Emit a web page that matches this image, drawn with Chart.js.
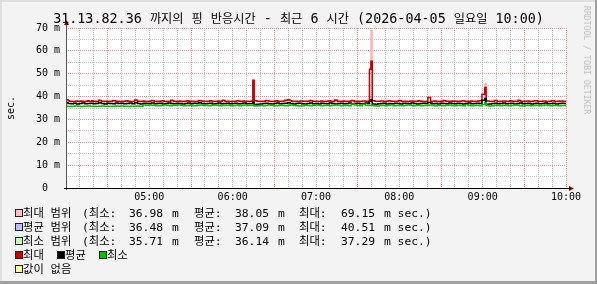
<!DOCTYPE html>
<html><head><meta charset="utf-8">
<script src="https://cdn.jsdelivr.net/npm/chart.js@4/dist/chart.umd.min.js"></script>
<style>
html,body{margin:0;padding:0;background:#f3f3f3;}
#wrap{position:relative;width:597px;height:284px;overflow:hidden;background:#f3f3f3;font-family:"DejaVu Sans Mono","Noto Sans CJK KR",monospace;color:#000;}
#c{position:absolute;left:0;top:0;}
.edge{position:absolute;}
#title{position:absolute;left:0;top:11px;width:597px;text-align:center;font-size:13.4px;line-height:16px;white-space:pre;}
#title .k{font-size:12.2px;line-height:1;}
.t{position:absolute;font-size:11.3px;line-height:14px;white-space:pre;}
.sq{position:absolute;width:8px;height:8px;box-sizing:border-box;border:1px solid #222;}
#ylab{position:absolute;left:11px;top:108px;transform:translate(-50%,-50%) rotate(-90deg);font-size:10px;line-height:12px;white-space:pre;}
#wm{position:absolute;left:587px;top:60px;transform:translate(-50%,-50%) rotate(90deg);font-size:8.2px;line-height:10px;color:#bcbcbc;white-space:pre;}
</style></head>
<body>
<div id="wrap">
  <canvas id="c" width="597" height="284" style="width:597px;height:284px"></canvas>
  <div class="edge" style="left:0;top:0;width:597px;height:2px;background:#dedede"></div>
  <div class="edge" style="left:0;top:0;width:2px;height:284px;background:#dedede"></div>
  <div class="edge" style="left:595px;top:0;width:2px;height:284px;background:#a0a0a0"></div>
  <div class="edge" style="left:0;top:281px;width:597px;height:3px;background:#a0a0a0"></div>
  <div id="title">31.13.82.36 <span class="k">까지의</span> <span class="k">핑</span> <span class="k">반응시간</span> - <span class="k">최근</span> 6 <span class="k">시간</span> (2026-04-05 <span class="k">일요일</span> 10:00)</div>
  <div id="ylab">sec.</div>
  <div id="wm">RRDTOOL / TOBI OETIKER</div>
  <div id="legend"></div>
</div>
<script>
// ---- data (milliseconds), one sample per minute from 04:00 to 10:00 ----
const STEP_MIN = 1;
const maxLine = [
  38.6, 38.6, 38.2, 38.0, 37.9, 37.8, 37.8, 38.0, 38.1, 37.9,
  37.9, 38.1, 38.0, 37.8, 37.8, 37.9, 38.2, 37.9, 38.0, 38.2,
  38.0, 37.9, 37.8, 37.8, 38.4, 38.3, 37.9, 37.9, 38.0, 38.0,
  37.8, 37.9, 37.9, 38.0, 38.3, 38.2, 38.1, 37.9, 37.9, 37.8,
  37.8, 37.9, 38.0, 38.1, 38.2, 38.0, 37.9, 37.8, 37.8, 37.9,
  38.5, 38.4, 38.0, 37.9, 37.9, 38.0, 38.1, 38.0, 37.8, 37.8,
  38.0, 38.1, 38.3, 38.2, 37.9, 37.9, 37.8, 37.9, 38.0, 38.1,
  38.2, 38.0, 37.9, 37.8, 37.8, 37.9, 38.4, 38.3, 38.0, 38.0,
  37.9, 38.0, 38.1, 37.9, 37.8, 37.9, 38.0, 38.1, 38.2, 38.0,
  37.9, 38.0, 38.0, 37.8, 37.8, 37.9, 38.3, 38.2, 38.1, 38.0,
  38.0, 37.9, 37.9, 38.0, 38.2, 38.1, 37.8, 37.9, 38.0, 38.0,
  38.1, 37.9, 37.9, 38.4, 38.3, 38.0, 38.0, 37.9, 37.8, 37.8,
  37.9, 38.0, 38.0, 38.1, 38.2, 38.1, 37.9, 37.9, 38.1, 38.0,
  37.8, 37.9, 38.0, 38.0, 38.1, 47.1, 38.2, 38.2, 37.9, 37.9,
  38.0, 38.0, 37.9, 37.9, 38.3, 38.2, 38.1, 37.9, 37.8, 37.9,
  38.0, 38.1, 38.2, 38.0, 37.9, 37.9, 38.0, 38.1, 38.4, 38.3,
  38.6, 38.5, 38.2, 38.0, 37.9, 38.0, 38.0, 37.8, 37.8, 38.1,
  38.1, 37.9, 37.9, 38.0, 38.0, 38.1, 38.3, 38.2, 37.9, 37.9,
  38.0, 37.9, 37.8, 37.8, 38.1, 38.0, 37.9, 38.0, 38.0, 38.1,
  38.2, 38.0, 37.8, 37.9, 38.5, 38.4, 38.0, 37.9, 37.9, 38.0,
  38.1, 38.0, 37.9, 37.9, 38.0, 38.1, 38.3, 38.2, 37.8, 37.9,
  38.0, 38.0, 37.9, 38.0, 38.1, 38.1, 38.0, 37.9, 38.0, 52.0,
  55.5, 38.2, 38.2, 37.9, 37.9, 38.0, 38.0, 38.1, 38.1, 37.8,
  37.8, 38.0, 38.1, 38.2, 38.1, 37.9, 37.9, 38.0, 38.0, 38.0,
  38.3, 38.2, 37.9, 37.9, 38.0, 38.0, 37.8, 37.8, 38.1, 38.1,
  38.0, 38.0, 37.9, 37.9, 38.2, 38.1, 38.0, 38.0, 37.8, 37.8,
  38.0, 39.6, 39.6, 38.0, 37.9, 37.9, 38.1, 38.0, 37.8, 37.8,
  38.0, 38.0, 38.3, 38.2, 37.9, 37.9, 38.0, 38.0, 38.1, 38.0,
  38.1, 38.0, 37.9, 37.9, 38.0, 38.1, 38.2, 38.1, 37.8, 37.9,
  38.0, 38.0, 38.1, 38.0, 37.9, 37.9, 38.0, 38.1, 38.2, 38.2,
  41.0, 41.0, 44.0, 38.2, 38.1, 37.9, 37.9, 38.0, 38.0, 38.3,
  38.3, 37.8, 37.8, 38.0, 38.0, 38.1, 38.1, 37.9, 37.9, 38.0,
  38.2, 38.1, 37.9, 37.9, 38.0, 38.0, 38.4, 38.3, 37.8, 37.8,
  38.0, 38.0, 38.1, 38.1, 37.9, 37.9, 38.0, 38.1, 38.2, 38.2,
  37.9, 37.9, 38.0, 38.0, 38.1, 38.1, 37.8, 37.8, 38.0, 38.0,
  38.2, 38.2, 37.9, 37.9, 38.0, 38.0, 38.1, 38.1, 38.0, 38.0,
  38.0
];
const avgLine = [
  37.3, 37.3, 37.0, 37.0, 36.9, 36.9, 37.1, 37.1, 36.8, 36.8,
  37.0, 37.0, 37.2, 37.2, 36.9, 36.9, 37.0, 37.0, 37.1, 37.1,
  36.9, 36.9, 37.0, 37.0, 37.3, 37.3, 37.0, 37.0, 36.8, 36.8,
  37.1, 37.1, 37.0, 37.0, 36.9, 36.9, 37.2, 37.2, 37.0, 37.0,
  37.1, 37.1, 36.9, 36.9, 37.0, 37.0, 37.2, 37.2, 36.9, 36.9,
  37.3, 37.3, 37.0, 37.0, 36.8, 36.8, 37.1, 37.1, 37.0, 37.0,
  37.0, 37.0, 37.2, 37.2, 36.9, 36.9, 37.0, 37.0, 37.1, 37.1,
  36.8, 36.8, 37.0, 37.0, 37.2, 37.2, 37.0, 37.0, 36.9, 36.9,
  37.1, 37.1, 37.0, 37.0, 36.8, 36.8, 37.0, 37.0, 37.2, 37.2,
  36.9, 36.9, 37.1, 37.1, 37.0, 37.0, 37.3, 37.3, 37.0, 37.0,
  36.9, 36.9, 37.0, 37.0, 37.1, 37.1, 36.8, 36.8, 37.0, 37.0,
  37.2, 37.2, 36.9, 36.9, 37.0, 37.0, 37.1, 37.1, 36.9, 36.9,
  37.0, 37.0, 37.1, 37.1, 36.9, 36.9, 37.0, 37.0, 37.2, 37.2,
  36.9, 36.9, 37.0, 37.0, 37.0, 37.6, 36.5, 36.5, 36.6, 36.6,
  36.8, 36.8, 37.0, 37.0, 37.1, 37.1, 36.9, 36.9, 36.7, 36.7,
  37.0, 37.0, 37.2, 37.2, 36.9, 36.9, 37.0, 37.0, 37.1, 37.1,
  37.3, 37.3, 37.0, 37.0, 36.8, 36.8, 37.0, 37.0, 37.1, 37.1,
  36.9, 36.9, 36.7, 36.7, 37.0, 37.0, 37.2, 37.2, 36.9, 36.9,
  37.0, 37.0, 36.8, 36.8, 37.1, 37.1, 37.0, 37.0, 36.9, 36.9,
  37.2, 37.2, 37.0, 37.0, 36.8, 36.8, 37.0, 37.0, 37.1, 37.1,
  36.9, 36.9, 37.0, 37.0, 37.2, 37.2, 36.8, 36.8, 37.0, 37.0,
  37.1, 37.1, 36.9, 36.9, 37.0, 37.0, 37.2, 37.2, 37.0, 38.0,
  38.6, 36.7, 36.7, 36.6, 36.6, 36.9, 36.9, 37.0, 37.0, 37.1,
  37.1, 36.8, 36.8, 37.0, 37.0, 36.9, 36.9, 37.1, 37.1, 37.0,
  37.0, 36.8, 36.8, 37.1, 37.1, 37.0, 37.0, 36.9, 36.9, 37.2,
  37.2, 37.0, 37.0, 36.8, 36.8, 37.0, 37.0, 37.1, 37.1, 37.0,
  37.0, 37.4, 37.4, 37.2, 36.9, 36.9, 37.0, 37.0, 36.8, 36.8,
  37.1, 37.1, 37.0, 37.0, 36.9, 36.9, 37.2, 37.2, 37.0, 37.0,
  36.9, 36.9, 37.1, 37.1, 37.0, 37.0, 36.8, 36.8, 37.0, 37.0,
  37.2, 37.2, 36.9, 36.9, 37.0, 37.0, 37.1, 37.1, 37.0, 37.0,
  38.4, 38.4, 39.2, 36.6, 36.6, 36.8, 36.8, 37.0, 37.0, 37.1,
  37.1, 36.9, 36.9, 37.0, 37.0, 37.2, 37.2, 36.9, 36.9, 37.0,
  37.0, 37.1, 37.1, 36.8, 36.8, 37.0, 37.0, 37.2, 37.2, 36.9,
  36.9, 37.0, 37.0, 37.1, 37.1, 36.8, 36.8, 37.0, 37.0, 37.1,
  37.1, 36.9, 36.9, 37.0, 37.0, 37.2, 37.2, 36.9, 36.9, 37.0,
  37.0, 37.1, 37.1, 36.8, 36.8, 37.0, 37.0, 37.1, 37.1, 37.0,
  37.0
];
const minLine = [
  35.8, 35.8, 35.7, 35.7, 35.8, 35.8, 35.8, 35.9, 35.9, 35.8,
  35.8, 35.7, 35.7, 35.8, 35.8, 35.8, 35.9, 35.9, 35.8, 35.8,
  35.8, 35.8, 35.7, 35.7, 35.8, 35.8, 35.9, 35.9, 35.8, 35.8,
  35.8, 35.7, 35.7, 35.8, 35.8, 35.8, 35.9, 35.8, 35.8, 35.8,
  35.9, 35.9, 35.8, 35.8, 35.8, 35.7, 35.7, 35.8, 35.8, 35.8,
  35.8, 35.9, 35.9, 35.8, 35.8, 35.8, 36.3, 36.3, 36.2, 36.2,
  36.3, 36.3, 36.2, 36.2, 36.2, 36.0, 36.0, 36.0, 36.0, 36.2,
  36.2, 36.3, 36.3, 36.1, 36.1, 36.0, 36.0, 36.2, 36.2, 36.2,
  36.2, 36.3, 36.3, 36.2, 36.2, 36.0, 36.0, 36.1, 36.1, 36.2,
  36.2, 36.0, 36.0, 36.0, 36.0, 36.2, 36.2, 36.3, 36.3, 36.2,
  36.2, 36.1, 36.1, 36.0, 36.0, 36.2, 36.2, 36.3, 36.3, 36.2,
  36.2, 36.0, 36.0, 36.1, 36.1, 36.2, 36.2, 36.2, 36.2, 36.0,
  36.0, 36.1, 36.1, 36.2, 36.2, 36.0, 36.0, 36.2, 36.2, 36.3,
  36.3, 36.1, 36.1, 36.2, 36.2, 36.2, 35.9, 35.9, 36.0, 36.0,
  36.2, 36.2, 36.0, 36.0, 36.1, 36.1, 36.3, 36.3, 36.2, 36.2,
  36.0, 36.0, 36.0, 36.0, 36.2, 36.2, 36.1, 36.1, 36.0, 36.0,
  36.2, 36.2, 36.3, 36.3, 36.1, 36.1, 36.0, 36.0, 35.9, 35.9,
  36.0, 36.0, 36.2, 36.2, 36.1, 36.1, 36.0, 36.0, 36.2, 36.2,
  36.3, 36.3, 36.2, 36.2, 36.0, 36.0, 36.1, 36.1, 36.2, 36.2,
  36.0, 36.0, 36.2, 36.2, 36.3, 36.3, 36.2, 36.2, 36.0, 36.0,
  36.1, 36.1, 36.2, 36.2, 36.0, 36.0, 36.8, 36.8, 36.3, 36.3,
  36.1, 36.1, 36.0, 36.0, 36.6, 36.6, 36.2, 36.2, 36.1, 36.1,
  36.2, 36.2, 36.0, 36.0, 35.9, 35.9, 36.1, 36.1, 36.2, 36.2,
  36.0, 36.0, 36.2, 36.2, 36.3, 36.3, 36.0, 36.0, 36.1, 36.1,
  36.2, 36.2, 36.0, 36.0, 36.1, 36.1, 36.3, 36.3, 36.2, 36.2,
  36.0, 36.0, 36.1, 36.1, 36.2, 36.2, 36.0, 36.0, 36.1, 36.1,
  36.2, 36.2, 36.3, 36.3, 36.1, 36.1, 36.0, 36.0, 36.2, 36.2,
  36.1, 36.1, 36.0, 36.0, 36.2, 36.2, 36.3, 36.3, 36.1, 36.1,
  36.0, 36.0, 36.2, 36.2, 36.1, 36.1, 36.0, 36.0, 36.4, 36.4,
  36.2, 36.2, 36.0, 36.0, 36.1, 36.1, 36.2, 36.2, 36.0, 36.0,
  36.5, 36.5, 37.3, 36.1, 36.1, 35.9, 35.9, 36.0, 36.0, 36.2,
  36.2, 36.1, 36.1, 36.0, 36.0, 36.2, 36.2, 36.1, 36.1, 36.0,
  36.0, 36.1, 36.1, 36.3, 36.3, 36.2, 36.2, 36.0, 36.0, 35.9,
  35.9, 36.1, 36.1, 36.2, 36.2, 36.0, 36.0, 36.1, 36.1, 36.2,
  36.2, 36.0, 36.0, 36.1, 36.1, 36.3, 36.3, 36.1, 36.1, 36.0,
  36.0, 36.2, 36.2, 36.1, 36.1, 36.0, 36.0, 36.1, 36.1, 36.1,
  36.1
];
const sampleMinutes = maxLine.map((_, i) => i * STEP_MIN);

// ranges (only visible where they stick out of the lines)
const maxRangeMinutes = [220, 302];
const maxRangeLow = [55.5, 44.0];
const maxRangeHigh = [69.15, 45.8];
const avgRangeMinutes = [302];
const avgRangeLow = [37.0];
const avgRangeHigh = [40.51];

// axes
const X_MIN = 0, X_MAX = 360;          // minutes after 04:00
const xLabelMinutes = [60, 120, 180, 240, 300, 360];
const xLabelTexts = ['05:00', '06:00', '07:00', '08:00', '09:00', '10:00'];
const Y_MIN = 0, Y_MAX = 70;
const yLabelValues = [0, 10, 20, 30, 40, 50, 60, 70];
const yLabelTexts = ['0  ', '10 m', '20 m', '30 m', '40 m', '50 m', '60 m', '70 m'];

// legend
const legendNames = ['최대 범위', '평균 범위', '최소 범위'];
const legendMins = ['36.98', '36.48', '35.71'];
const legendAvgs = ['38.05', '37.09', '36.14'];
const legendMaxs = ['69.15', '40.51', '37.29'];
const legendRangeColors = ['#ffc0c0', '#c0c0ff', '#c0ffc0'];
const lineNames = ['최대', '평균', '최소'];
const lineColors = ['#cc0000', '#000000', '#00c000'];
const noValueName = '값이 없음';
const noValueColor = '#ffffa0';

// ---- legend DOM ----
(function buildLegend() {
  const lg = document.getElementById('legend');
  function add(cls, x, y, txt, bg) {
    const d = document.createElement('div');
    d.className = cls;
    d.style.left = x + 'px';
    d.style.top = y + 'px';
    if (txt !== null) d.textContent = txt;
    if (bg) d.style.background = bg;
    lg.appendChild(d);
  }
  const rowTop = 207, rowH = 14;
  for (let i = 0; i < 3; i++) {
    const y = rowTop + i * rowH;
    add('sq', 15, y + 2, null, legendRangeColors[i]);
    add('t', 23, y, legendNames[i]);
    add('t', 82, y, '(최소:');
    add('t', 129, y, legendMins[i]);
    add('t', 172, y, 'm');
    add('t', 194, y, '평균:');
    add('t', 235, y, legendAvgs[i]);
    add('t', 278, y, 'm');
    add('t', 299, y, '최대:');
    add('t', 341, y, legendMaxs[i]);
    add('t', 384, y, 'm sec.)');
  }
  const y4 = rowTop + 3 * rowH;
  const xs = [15, 57, 99];
  for (let i = 0; i < 3; i++) {
    add('sq', xs[i], y4 + 2, null, lineColors[i]);
    add('t', xs[i] + 8, y4, lineNames[i]);
  }
  const y5 = rowTop + 4 * rowH;
  add('sq', 15, y5 + 2, null, noValueColor);
  add('t', 23, y5, noValueName);
})();

// ---- chart ----
const MAJOR = '#ff8c8c';
const MINOR = '#c6c6c6';

const plotDecor = {
  id: 'plotDecor',
  beforeDraw(chart) {
    const { ctx, chartArea: a } = chart;
    ctx.save();
    ctx.fillStyle = '#ffffff';
    ctx.fillRect(a.left, a.top, a.right - a.left, a.bottom - a.top);
    ctx.restore();
  },
  afterDraw(chart) {
    const { ctx, chartArea: a } = chart;
    ctx.save();
    ctx.lineWidth = 1;
    ctx.strokeStyle = '#555555';
    ctx.beginPath();
    ctx.moveTo(a.left + 0.5, a.bottom + 2);
    ctx.lineTo(a.left + 0.5, a.top - 4);
    ctx.stroke();
    ctx.strokeStyle = '#000000';
    ctx.beginPath();
    ctx.moveTo(a.left - 2, a.bottom + 0.5);
    ctx.lineTo(a.right + 3, a.bottom + 0.5);
    ctx.stroke();
    ctx.fillStyle = '#800000';
    ctx.beginPath();
    ctx.moveTo(a.left - 2, a.top - 3);
    ctx.lineTo(a.left + 3, a.top - 3);
    ctx.lineTo(a.left + 0.5, a.top - 8);
    ctx.closePath();
    ctx.fill();
    ctx.beginPath();
    ctx.moveTo(a.right + 3, a.bottom - 2);
    ctx.lineTo(a.right + 3, a.bottom + 3);
    ctx.lineTo(a.right + 8, a.bottom + 0.5);
    ctx.closePath();
    ctx.fill();
    ctx.restore();
  }
};

const toXY = (xs, ys) => xs.map((x, i) => ({ x: x, y: ys[i] }));
const toRange = (xs, lo, hi) => xs.map((x, i) => ({ x: x, y: [lo[i], hi[i]] }));

const lineStyle = { stepped: 'middle', pointRadius: 0, borderWidth: 1.5, fill: false, tension: 0 };

new Chart(document.getElementById('c'), {
  type: 'line',
  data: {
    datasets: [
      Object.assign({ label: '최소', data: toXY(sampleMinutes, minLine), borderColor: lineColors[2], order: 1 }, lineStyle),
      Object.assign({ label: '평균', data: toXY(sampleMinutes, avgLine), borderColor: lineColors[1], order: 2 }, lineStyle),
      Object.assign({ label: '최대', data: toXY(sampleMinutes, maxLine), borderColor: lineColors[0], order: 3 }, lineStyle),
      { type: 'bar', label: '평균 범위', data: toRange(avgRangeMinutes, avgRangeLow, avgRangeHigh),
        backgroundColor: '#c0c0ff', borderWidth: 0, barThickness: 2, grouped: false, order: 9 },
      { type: 'bar', label: '최대 범위', data: toRange(maxRangeMinutes, maxRangeLow, maxRangeHigh),
        backgroundColor: '#ffb4b4', borderWidth: 0, barThickness: 2, grouped: false, order: 10 }
    ]
  },
  options: {
    responsive: false,
    devicePixelRatio: 1,
    animation: false,
    events: [],
    layout: { padding: { left: 0, top: 28, right: 31, bottom: 82 } },
    plugins: { legend: { display: false }, title: { display: false }, tooltip: { enabled: false } },
    scales: {
      x: {
        type: 'linear', min: X_MIN, max: X_MAX, offset: false,
        grid: {
          offset: false, drawTicks: false, lineWidth: 1,
          color: (c) => {
            const v = c.tick ? c.tick.value : -1;
            if (v === X_MIN) return 'rgba(0,0,0,0)';
            if (v % 60 === 30 || v === X_MAX) return MAJOR;
            return MINOR;
          }
        },
        border: { display: false, dash: [1, 1] },
        ticks: {
          stepSize: 10, autoSkip: false, maxRotation: 0, minRotation: 0, padding: 3,
          color: '#000', font: { family: 'DejaVu Sans Mono', size: 10 },
          callback: (v) => { const i = xLabelMinutes.indexOf(v); return i >= 0 ? xLabelTexts[i] : ''; }
        },
        afterFit: (s) => { s.height = 14; }
      },
      y: {
        type: 'linear', min: Y_MIN, max: Y_MAX,
        grid: {
          drawTicks: false, lineWidth: 1,
          color: (c) => {
            const v = c.tick ? c.tick.value : -1;
            if (v === Y_MIN) return 'rgba(0,0,0,0)';
            return v % 10 === 0 ? MAJOR : MINOR;
          }
        },
        border: { display: false, dash: [1, 1] },
        ticks: {
          stepSize: 5, autoSkip: false, padding: 6,
          color: '#000', font: { family: 'DejaVu Sans Mono', size: 10 },
          callback: (v) => { const i = yLabelValues.indexOf(v); return i >= 0 ? yLabelTexts[i] : ''; }
        },
        afterFit: (s) => { s.width = 66; }
      }
    }
  },
  plugins: [plotDecor]
});
</script>
</body></html>
